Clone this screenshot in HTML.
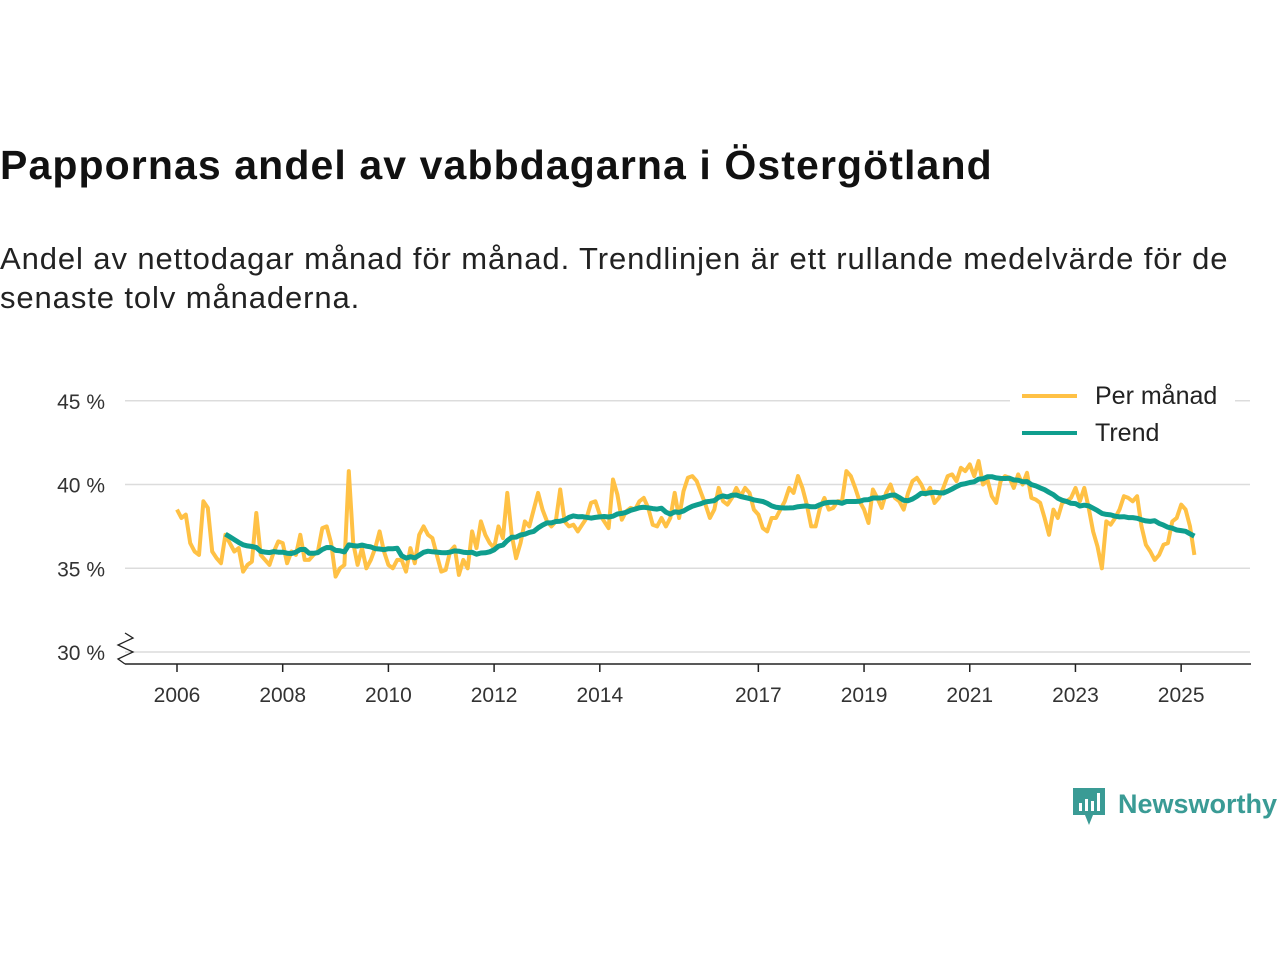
<!DOCTYPE html>
<html><head><meta charset="utf-8">
<style>
body{margin:0;background:#fff;width:1280px;height:960px;overflow:hidden;font-family:"Liberation Sans",sans-serif;color:#111}
#title{position:absolute;left:0;top:142px;font-size:41px;font-weight:bold;white-space:nowrap;letter-spacing:1.1px}
#sub{position:absolute;left:0;top:239px;font-size:31px;line-height:39px;width:1270px;color:#222;letter-spacing:0.9px;white-space:nowrap}
svg{position:absolute;left:0;top:0}
</style></head><body>
<div id="title">Pappornas andel av vabbdagarna i Östergötland</div>
<div id="sub">Andel av nettodagar månad för månad. Trendlinjen är ett rullande medelvärde för de<br>senaste tolv månaderna.</div>
<svg id="chart" width="1280" height="960"></svg>
<script>
const startYear = 2006;
const monthly = [
38.5,38.0,38.2,36.5,36.0,35.8,39.0,38.6,36.0,35.6,35.3,37.0,
36.5,36.0,36.2,34.8,35.2,35.4,38.3,35.8,35.5,35.2,36.0,36.6,
36.5,35.3,36.0,35.8,37.0,35.5,35.5,35.8,36.0,37.4,37.5,36.5,
34.5,35.0,35.2,40.8,36.5,35.2,36.2,35.0,35.5,36.2,37.2,36.0,
35.2,35.0,35.5,35.5,34.8,36.2,35.3,37.0,37.5,37.0,36.8,35.8,
34.8,34.9,36.0,36.3,34.6,35.5,35.0,37.2,36.2,37.8,37.0,36.5,
36.2,37.5,36.8,39.5,37.0,35.6,36.5,37.8,37.5,38.5,39.5,38.5,
37.8,37.5,37.8,39.7,37.8,37.5,37.6,37.2,37.6,38.0,38.9,39.0,
38.2,37.8,37.4,40.3,39.4,37.9,38.4,38.6,38.5,39.0,39.2,38.6,
37.6,37.5,38.0,37.5,38.0,39.5,38.0,39.6,40.4,40.5,40.2,39.5,
38.8,38.0,38.5,39.8,39.0,38.8,39.2,39.8,39.3,39.8,39.5,38.5,
38.2,37.4,37.2,38.0,38.0,38.5,39.0,39.8,39.5,40.5,39.8,38.8,
37.5,37.5,38.6,39.2,38.5,38.6,39.0,39.0,40.8,40.5,39.8,39.0,
38.5,37.7,39.7,39.2,38.6,39.5,40.0,39.2,39.0,38.5,39.5,40.2,
40.4,40.0,39.4,39.8,38.9,39.2,39.8,40.5,40.6,40.2,41.0,40.8,
41.2,40.5,41.4,40.0,40.3,39.3,38.9,40.2,40.5,40.4,39.8,40.6,
40.0,40.7,39.2,39.1,38.9,38.0,37.0,38.5,38.0,38.9,39.0,39.2,
39.8,39.0,39.8,38.6,37.2,36.3,35.0,37.8,37.6,38.0,38.5,39.3,
39.2,39.0,39.3,37.5,36.4,36.0,35.5,35.8,36.4,36.5,37.8,38.0,
38.8,38.5,37.5,35.8];
const yTicks = [30,35,40,45];
const yTickLabels = ["30 %","35 %","40 %","45 %"];
const xTicks = [2006,2008,2010,2012,2014,2017,2019,2021,2023,2025];

const NS='http://www.w3.org/2000/svg';
const svg=document.getElementById('chart');
const x0=177, pxYear=52.85;
const xs=t=>x0+(t-startYear)*pxYear;
const ys=v=>652-(v-30)*16.75;
function el(tag,attrs,parent){const e=document.createElementNS(NS,tag);for(const k in attrs)e.setAttribute(k,attrs[k]);(parent||svg).appendChild(e);return e;}

yTicks.forEach((v,i)=>{
  const g=el('line',{x1:125,x2:1250,y1:ys(v),y2:ys(v),stroke:'#dcdcdc','stroke-width':1.5});
  
  
  const t=el('text',{x:105,y:ys(v)+8,'text-anchor':'end','font-size':21,fill:'#333','font-family':'Liberation Sans, sans-serif'});
  t.textContent=yTickLabels[i];
  
  
});
const ax=el('line',{x1:125,x2:1251,y1:664,y2:664,stroke:'#222','stroke-width':1.5});


const brk=el('path',{d:'M125 633 L133 638 L118 645 L133 652 L118 659 L125 664',fill:'none',stroke:'#222','stroke-width':1.3});


xTicks.forEach(y=>{
  const X=xs(y);
  const tk=el('line',{x1:X,x2:X,y1:664,y2:672,stroke:'#222','stroke-width':1.5});
  
  
  const t=el('text',{x:X,y:702,'text-anchor':'middle','font-size':21,fill:'#333','font-family':'Liberation Sans, sans-serif'});
  t.textContent=y;
  
  
});
const pts=monthly.map((v,i)=>xs(startYear+i/12).toFixed(1)+','+ys(v).toFixed(1));
const l1=el('polyline',{points:pts.join(' '),fill:'none',stroke:'#FFC145','stroke-width':4,'stroke-linejoin':'round'});


const tp=[];
for(let i=11;i<monthly.length;i++){let s=0;for(let j=i-11;j<=i;j++)s+=monthly[j];tp.push(xs(startYear+i/12).toFixed(1)+','+ys(s/12).toFixed(1));}
const l2=el('polyline',{points:tp.join(' '),fill:'none',stroke:'#0F9E8E','stroke-width':5,'stroke-linejoin':'round'});


const lg=el('g',{});


el('rect',{x:1010,y:378,width:225,height:75,fill:'#fff'},lg);
el('line',{x1:1022,x2:1077,y1:396,y2:396,stroke:'#FFC145','stroke-width':4},lg);
el('line',{x1:1022,x2:1077,y1:433,y2:433,stroke:'#0F9E8E','stroke-width':4},lg);
const a=el('text',{x:1095,y:404,'font-size':25,fill:'#222','font-family':'Liberation Sans, sans-serif'},lg);a.textContent='Per månad';
const b=el('text',{x:1095,y:441,'font-size':25,fill:'#222','font-family':'Liberation Sans, sans-serif'},lg);b.textContent='Trend';
const lo=el('g',{});


el('path',{d:'M1073 788 h32 v27 h-12 l-4 10 l-4 -10 h-12 z',fill:'#3a9b95'},lo);
el('rect',{x:1079,y:803,width:3,height:8,fill:'#fff'},lo);
el('rect',{x:1085,y:799,width:3,height:12,fill:'#fff'},lo);
el('rect',{x:1091,y:801,width:3,height:10,fill:'#fff'},lo);
el('rect',{x:1097,y:793,width:3,height:18,fill:'#fff'},lo);
const n=el('text',{x:1118,y:813,'font-size':27,'font-weight':'bold',fill:'#3a9b95','font-family':'Liberation Sans, sans-serif'},lo);n.textContent='Newsworthy';
</script>
</body></html>
